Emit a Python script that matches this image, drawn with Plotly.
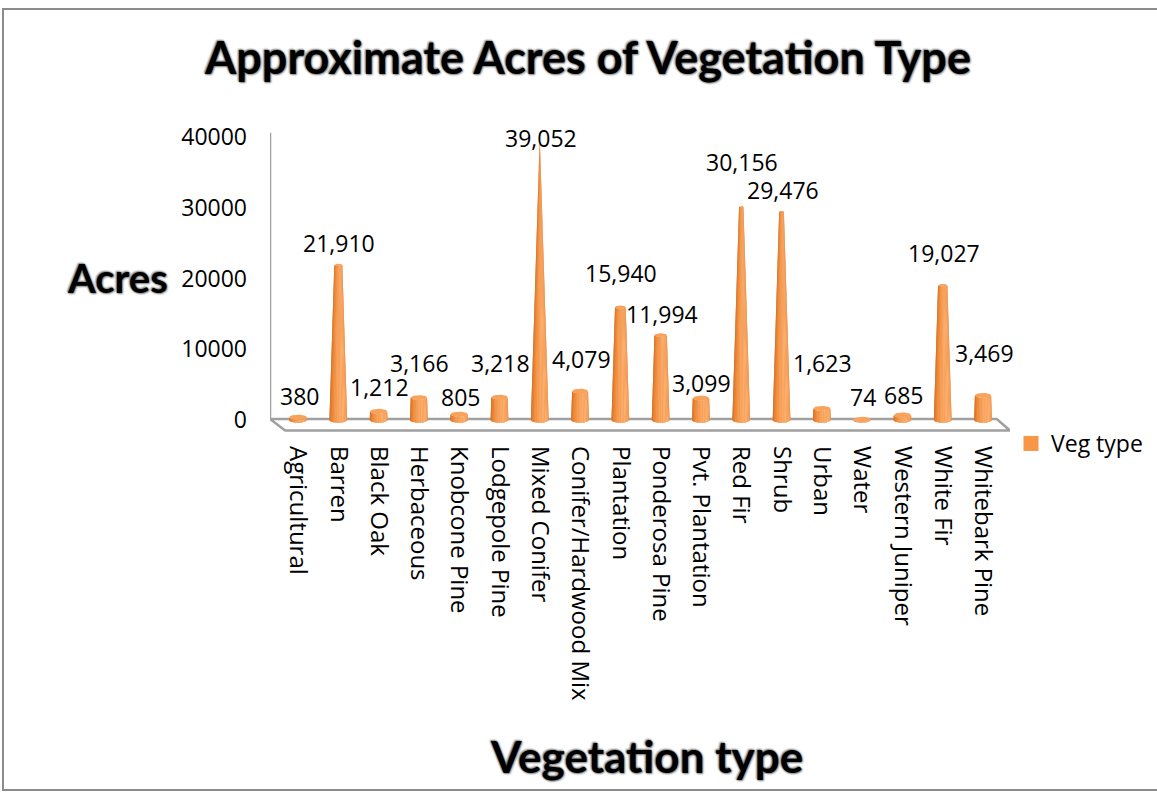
import numpy as np
import plotly.graph_objects as go

# ---------------- data ----------------
categories = ["Agricultural", "Barren", "Black Oak", "Herbaceous", "Knobcone Pine",
              "Lodgepole Pine", "Mixed Conifer", "Conifer/Hardwood Mix", "Plantation",
              "Ponderosa Pine", "Pvt. Plantation", "Red Fir", "Shrub", "Urban", "Water",
              "Western Juniper", "White Fir", "Whitebark Pine"]
acres = [380, 21910, 1212, 3166, 805, 3218, 39052, 4079, 15940, 11994, 3099,
         30156, 29476, 1623, 74, 685, 19027, 3469]
y_ticks = [0, 10000, 20000, 30000, 40000]
series_name = "Veg type"
title_text = "Approximate Acres of Vegetation Type"
x_title = "Vegetation type"
y_title = "Acres"

# label lift above each cone top (pixels) – styling of data labels
label_lift = [21, 22, 24, 35, 17, 34, 6, 32, 34, 21, 15, 45, 21, 46, 22, 20, 32, 42]

# ---------------- layout geometry ----------------
W, H = 1157, 793
L, R, T, B = 270, 1010, 120, 435          # plot area in pixels
XR = [-0.695, 17.67]
YR = [-2120, 42403]
CONE_TOP = 40000                           # cones are truncated cones reaching a point at max

def px_x(p):   # pixel -> paper x
    return (p - L) / (R - L)

def px_y(p):   # pixel -> paper y
    return (B - p) / (B - T)

ORANGE = "#F79646"
FONT = "Open Sans"
BOLD = "Lato"
SHADOW = "0px 0px 2px #6f6f6f, 1px 1px 2px #8f8f8f, -1px -1px 2px #8f8f8f"

fig = go.Figure()

# ---------------- cones ----------------
W0 = 0.22      # base half width (category units)
RY = 380       # base ellipse vertical radius (data units)
N = 16
thetas = np.linspace(-np.pi / 2, np.pi / 2, N + 1)

def lerp(c1, c2, t):
    return tuple(int(round(a + (b - a) * t)) for a, b in zip(c1, c2))

def hexrgb(h):
    h = h.lstrip("#")
    return tuple(int(h[i:i + 2], 16) for i in (0, 2, 4))

DARK = hexrgb("#A9500F")
MID = hexrgb("#EE8632")
LIGHT = hexrgb("#FCAE6C")

def shade(theta):
    s = 0.5 + 0.5 * np.cos(theta - 0.55)
    if s < 0.6:
        c = lerp(DARK, MID, s / 0.6)
    else:
        c = lerp(MID, LIGHT, (s - 0.6) / 0.4)
    return "rgb(%d,%d,%d)" % c

# silhouette underlay
xs, ys = [], []
for i, v in enumerate(acres):
    f = max(1 - v / CONE_TOP, 0.0)
    wt, rt = W0 * f, RY * f
    th = np.linspace(-np.pi / 2, np.pi / 2, 30)
    bx = list(i + np.sin(th) * W0)
    by = list(-RY * np.cos(th))
    tx = list(i + np.sin(th[::-1]) * wt)
    ty = list(v - rt * np.cos(th[::-1]))
    xs += bx + tx + [None]
    ys += by + ty + [None]
fig.add_trace(go.Scatter(x=xs, y=ys, fill="toself", mode="lines", line=dict(width=0),
                         fillcolor="rgb(222,120,50)", hoverinfo="skip", showlegend=False))

for k in range(N):
    ta, tb = thetas[k], thetas[k + 1]
    tb2 = min(tb + 0.02, np.pi / 2)
    xs, ys = [], []
    for i, v in enumerate(acres):
        f = max(1 - v / CONE_TOP, 0.0)
        wt, rt = W0 * f, RY * f
        th = np.linspace(ta, tb2, 4)
        bx = list(i + np.sin(th) * W0)
        by = list(-RY * np.cos(th))
        tx = list(i + np.sin(th[::-1]) * wt)
        ty = list(v - rt * np.cos(th[::-1]))
        xs += bx + tx + [None]
        ys += by + ty + [None]
    fig.add_trace(go.Scatter(x=xs, y=ys, fill="toself", mode="lines", line=dict(width=0),
                             fillcolor=shade((ta + tb) / 2), hoverinfo="skip",
                             showlegend=False))

# top caps
xs, ys = [], []
for i, v in enumerate(acres):
    f = max(1 - v / CONE_TOP, 0.0)
    wt, rt = W0 * f, RY * f
    th = np.linspace(0, 2 * np.pi, 40)
    xs += list(i + np.cos(th) * wt) + [None]
    ys += list(v + np.sin(th) * rt) + [None]
fig.add_trace(go.Scatter(x=xs, y=ys, fill="toself", mode="lines", line=dict(width=0),
                         fillcolor="#F8A25C", hoverinfo="skip", showlegend=False))

# legend entry
fig.add_trace(go.Scatter(x=[None], y=[None], mode="markers", name=series_name,
                         marker=dict(symbol="square", size=15, color=ORANGE)))

# ---------------- data labels ----------------
for i, (v, lift) in enumerate(zip(acres, label_lift)):
    fig.add_annotation(x=i, y=v, text=f"{v:,}", showarrow=False, yanchor="middle",
                       yshift=lift, xshift=1,
                       font=dict(family=FONT, size=23, color="#000000"))

# ---------------- decorations: floor, axis wall line, border ----------------
floor_col = "#A0A0A0"
shapes = [
    # floor parallelogram
    dict(type="path", xref="x", yref="y",
         path=f"M {XR[0]},140 L 17.34,140 L 17.67,-1480 L -0.32,-1480 Z",
         fillcolor="#FFFFFF", line=dict(color=floor_col, width=2.5), layer="below"),
    # vertical axis line
    dict(type="line", xref="x", yref="y", x0=XR[0], x1=XR[0], y0=140, y1=40600,
         line=dict(color=floor_col, width=2.5), layer="below"),
    # outer chart border
    dict(type="rect", xref="paper", yref="paper",
         x0=px_x(3), x1=px_x(1220), y0=px_y(790), y1=px_y(9),
         line=dict(color="#8C8C8C", width=2), fillcolor="rgba(0,0,0,0)", layer="below"),
]

fig.update_layout(
    width=W, height=H,
    margin=dict(l=L, r=W - R, t=T, b=H - B, autoexpand=False),
    paper_bgcolor="white", plot_bgcolor="white",
    shapes=shapes,
    title=dict(text=title_text, x=588 / W, xref="container", xanchor="center",
               y=1 - 58 / H, yref="container", yanchor="middle",
               font=dict(family=BOLD, size=45, color="#000000", weight="bold", shadow=SHADOW)),
    xaxis=dict(range=XR, tickmode="array", tickvals=list(range(len(categories))),
               ticktext=categories, tickangle=90, showgrid=False, zeroline=False,
               showline=False, ticks="", ticklabelstandoff=10,
               tickfont=dict(family=FONT, size=24, color="#000000")),
    yaxis=dict(range=YR, tickmode="array", tickvals=y_ticks,
               ticktext=[str(t) for t in y_ticks], showgrid=False, zeroline=False,
               showline=False, ticks="", ticklabelstandoff=22,
               tickfont=dict(family=FONT, size=23, color="#000000")),
    legend=dict(x=px_x(1011), y=px_y(443.5), xanchor="left", yanchor="middle",
                font=dict(family=FONT, size=23, color="#000000"),
                bgcolor="rgba(0,0,0,0)"),
    showlegend=True,
)

fig.add_annotation(x=px_x(117), y=px_y(278), xref="paper", yref="paper", text=y_title,
                   showarrow=False, xanchor="center", yanchor="middle",
                   font=dict(family=BOLD, size=40, color="#000000", weight="bold", shadow=SHADOW))
fig.add_annotation(x=px_x(646), y=px_y(756), xref="paper", yref="paper", text=x_title,
                   showarrow=False, xanchor="center", yanchor="middle",
                   font=dict(family=BOLD, size=44, color="#000000", weight="bold", shadow=SHADOW))

fig.write_html("out.html", config={"displayModeBar": False},
               post_script="document.body.style.margin='0px';")
